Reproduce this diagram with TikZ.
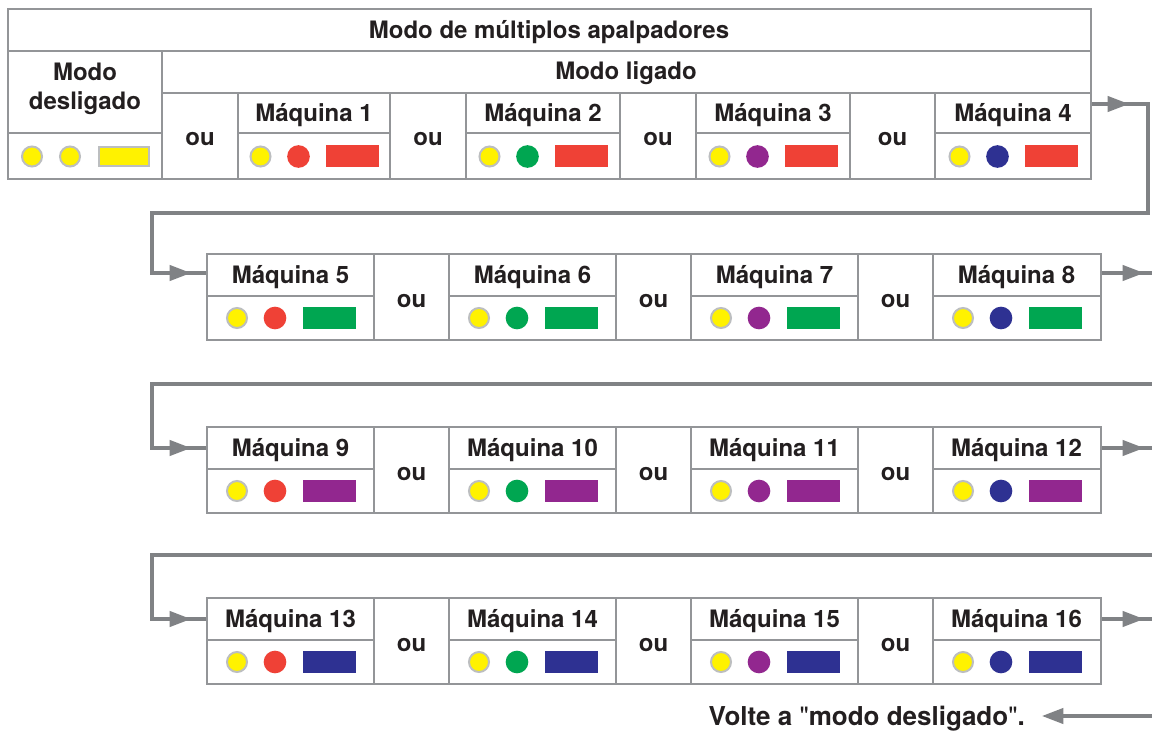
\documentclass[tikz,border=0pt]{standalone}
\usepackage{fontspec}
\setmainfont{TeX Gyre Heros}
\newfontfamily\qfont{TeX Gyre Heros}[Ligatures=TeXOff]
\usetikzlibrary{arrows.meta}
\definecolor{ylw}{HTML}{FFF200}
\definecolor{rd}{HTML}{EF4136}
\definecolor{gr}{HTML}{00A651}
\definecolor{pu}{HTML}{92278F}
\definecolor{bl}{HTML}{2E3192}
\definecolor{gridc}{HTML}{939598}
\definecolor{connc}{HTML}{808285}
\definecolor{ringc}{HTML}{BCBEC0}
\definecolor{txt}{HTML}{231F20}
\newcommand\symrow[5]{%
  \node[ydot] (#1a) at (#2-53.5,#3) {};
  \node[cdot=#4] (#1b) at (#2-15.5,#3) {};
  \node[bar=#5] (#1c) at (#2+38.5,#3) {};
}
\newcommand\dq{{\qfont\mdseries\symbol{34}}}
\begin{document}
\begin{tikzpicture}[x=0.75pt,y=-0.75pt,
  lbl/.style={font=\bfseries\fontsize{18}{22}\selectfont, text=txt, inner sep=0pt, anchor=base},
  framebox/.style={draw=gridc, line width=2pt, rectangle, inner sep=0pt},
  innerline/.style={draw=gridc, line width=1.4pt},
  conn/.style={draw=connc, line width=2.3pt},
  tip/.style={draw=connc, line width=2.3pt, -{Triangle[length=16pt,width=11.5pt]}},
  ydot/.style={circle, fill=ylw, draw=ringc, line width=1.5pt, minimum size=15pt, inner sep=0pt},
  cdot/.style={circle, fill=#1, minimum size=17pt, inner sep=0pt},
  bar/.style={rectangle, fill=#1, minimum width=39.75pt, minimum height=16.5pt, inner sep=0pt},
]
\clip (0,0) rectangle (1152,734);
\fill[white] (0,0) rectangle (1152,734);

% ---------- Row 1 table ----------
\node[framebox, minimum width=812.25pt, minimum height=127.5pt] (row1) at (549.5,94) {};
\draw[innerline] (8,51) -- (1091,51);
\draw[innerline] (162,93) -- (1091,93);
\draw[innerline] (8,133) -- (162,133);
\foreach \a/\b in {238/390,466/620,696/850,935/1091}
  \draw[innerline] (\a,133) -- (\b,133);
\draw[innerline] (162,51) -- (162,179);
\foreach \x in {238,390,466,620,696,850,935}
  \draw[innerline] (\x,93) -- (\x,179);

\node[lbl] (title) at (549,38.5) {Modo de múltiplos apalpadores};
\node[lbl] (ligado) at (626,80) {Modo ligado};
\node[lbl] (desl1) at (85,81) {Modo};
\node[lbl] (desl2) at (85,110) {desligado};
\node[ydot] (d0a) at (32,156.5) {};
\node[ydot] (d0b) at (70,156.5) {};
\node[bar=ylw, draw=ringc, line width=1.5pt, minimum width=37.5pt, minimum height=14.5pt] (d0c) at (123.5,156.5) {};

\foreach \c/\n/\col in {314/1/rd,543/2/gr,773/3/pu,1013/4/bl}{
  \node[lbl] (lbl\n) at (\c,122) {Máquina \n};
  \symrow{s\n}{\c}{156.5}{\col}{rd}
}
\foreach \c/\n in {200/1,428/2,658/3,892.5/4}
  \node[lbl] (ou\n) at (\c,146) {ou};

% ---------- Rows 2-4 ----------
\foreach \r/\T/\bc in {2/254/gr,3/427/pu,4/598/bl}{
  \node[framebox, minimum width=670.5pt, minimum height=64.5pt] (row\r) at (654,\T+43) {};
  \foreach \x in {374,449,616,691,858,933}
    \draw[innerline] (\x,\T) -- (\x,\T+86);
  \foreach \a/\b in {207/374,449/616,691/858,933/1101}
    \draw[innerline] (\a,\T+42) -- (\b,\T+42);
  \foreach \i/\c/\col in {1/290.5/rd,2/532.5/gr,3/774.5/pu,4/1016.5/bl}{
    \pgfmathtruncatemacro\k{4*(\r-1)+\i}
    \node[lbl] (lbl\k) at (\c,\T+29) {Máquina \k};
    \symrow{s\k}{\c}{\T+64}{\col}{\bc}
  }
  \foreach \j/\c in {1/411.5,2/653.5,3/895.5}
    \node[lbl] (ou\r\j) at (\c,\T+53) {ou};
}

% ---------- Connectors ----------
\coordinate (o1) at (row1.east |- 0,104);
\coordinate (c1a) at (1148,104);
\coordinate (c1b) at (1148,213);
\coordinate (c1c) at (152,213);
\coordinate (i2) at (row2.west |- 0,273);
\draw[conn] (o1) -- (c1a) -- (c1b) -- (c1c) -- (c1c |- i2) -- (i2);
\draw[tip] (o1) -- (1129,104);
\draw[tip] (c1c |- i2) -- (191,273);

\foreach \r/\y/\n/\ny/\h in {2/273/3/448/384,3/448/4/619/555}{
  \draw[conn] (row\r.east |- 0,\y) -- (1160,\y);
  \draw[tip] (row\r.east |- 0,\y) -- (1144,\y);
  \draw[conn] (1160,\h) -- (152,\h) -- (152,\ny) -- (row\n.west |- 0,\ny);
  \draw[tip] (152,\ny) -- (191,\ny);
}
\draw[conn] (row4.east |- 0,619) -- (1160,619);
\draw[tip] (row4.east |- 0,619) -- (1144,619);

\node[lbl, font=\bfseries\fontsize{19.5}{23}\selectfont, anchor=base east] (volte) at (1025,725) {Volte a \dq modo desligado\dq.};
\coordinate (back) at (1160,716);
\draw[conn] (back) -- (1060,716);
\draw[tip] (back) -- ([xshift=12.75pt]volte.east |- 0,716);
\end{tikzpicture}
\end{document}
